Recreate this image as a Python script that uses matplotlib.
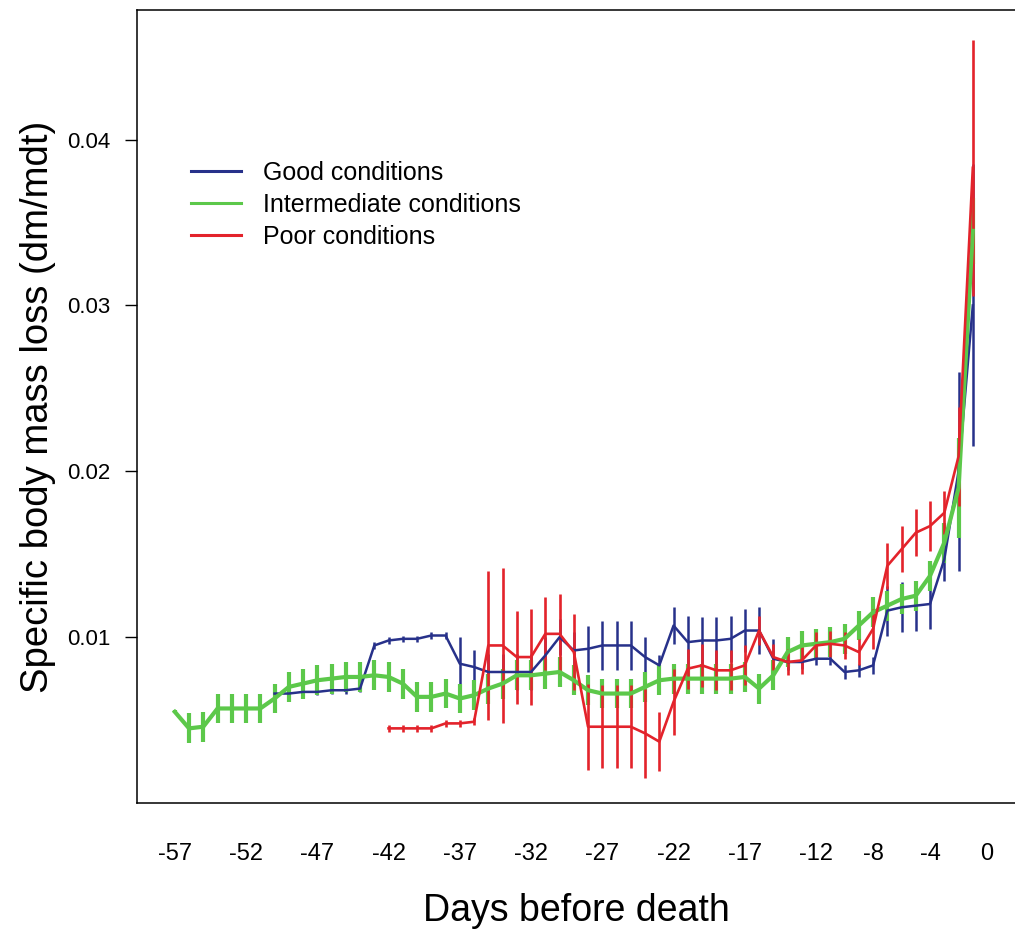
import numpy as np
import matplotlib
matplotlib.use("Agg")
import matplotlib.pyplot as plt
from matplotlib import font_manager

plt.rcParams['font.family'] = ['Liberation Sans', 'DejaVu Sans']
_names = {f.name for f in font_manager.fontManager.ttflist}
narrow = 'Liberation Sans Narrow' if 'Liberation Sans Narrow' in _names else 'Liberation Sans'

# ---- data -------------------------------------------------------------
good_days = list(range(-50, 0))
good_vals = [0.0066, 0.0066, 0.0067, 0.0067, 0.0068, 0.0068, 0.0069,
             0.0095, 0.0098, 0.0099, 0.0099, 0.0101, 0.0101,
             0.0084, 0.0082, 0.0079, 0.0079, 0.0079, 0.0079, 0.0089, 0.0100,
             0.0092, 0.0093, 0.0095, 0.0095, 0.0095, 0.0088, 0.0083, 0.0107,
             0.0097, 0.0098, 0.0098, 0.0099, 0.0104, 0.0104,
             0.0087, 0.0085, 0.0085, 0.0087, 0.0087, 0.0079, 0.0080, 0.0083,
             0.0116, 0.0118, 0.0119, 0.0120, 0.0147, 0.0200, 0.0300]
good_err = [0.0002] * 13 + [0.0016, 0.0010, 0.0011, 0.0011, 0.0011, 0.0011,
            0.0011, 0.0011, 0.0011, 0.0014, 0.0015, 0.0015, 0.0015, 0.0012,
            0.0006, 0.0011, 0.0016, 0.0014, 0.0014, 0.0014, 0.0013, 0.0014,
            0.0012, 0.0005, 0.0004, 0.0004, 0.0004, 0.0004, 0.0004, 0.0005,
            0.0015, 0.0015, 0.0015, 0.0015, 0.0013, 0.0060, 0.0085]

inter_days = list(range(-57, 0))
inter_vals = [0.0055, 0.0045, 0.0046, 0.0057, 0.0057, 0.0057, 0.0057,
              0.0063, 0.0070, 0.0072, 0.0074, 0.0075, 0.0076, 0.0076, 0.0077,
              0.0076, 0.0072, 0.0064, 0.0064, 0.0066, 0.0063, 0.0065, 0.0069,
              0.0072, 0.0077, 0.0077, 0.0078, 0.0079, 0.0074, 0.0068, 0.0066,
              0.0066, 0.0066, 0.0070, 0.0074, 0.0075, 0.0075, 0.0075, 0.0075,
              0.0075, 0.0076, 0.0069, 0.0077, 0.0091, 0.0095, 0.0096, 0.0097,
              0.0099, 0.0107, 0.0115, 0.0119, 0.0123, 0.0125, 0.0137, 0.0157,
              0.0190, 0.0345]
inter_err = [0.0001] + [0.0009] * 53 + [0.0012, 0.0030, 0.0020]

poor_days = list(range(-42, 0))
poor_vals = [0.0045, 0.0045, 0.0045, 0.0045, 0.0048, 0.0048, 0.0049,
             0.0095, 0.0095, 0.0088, 0.0088, 0.0102, 0.0102, 0.0091,
             0.0046, 0.0046, 0.0046, 0.0046, 0.0042, 0.0037, 0.0061,
             0.0081, 0.0083, 0.0080, 0.0080, 0.0083, 0.0104, 0.0088,
             0.0085, 0.0086, 0.0095, 0.0096, 0.0095, 0.0091, 0.0105,
             0.0143, 0.0153, 0.0163, 0.0167, 0.0175, 0.0209, 0.0383]
poor_err = [0.0002] * 7 + [0.0045, 0.0047, 0.0028, 0.0029, 0.0022, 0.0024,
            0.0023, 0.0026, 0.0025, 0.0025, 0.0025, 0.0027, 0.0018, 0.0020,
            0.0012, 0.0013, 0.0012, 0.0012, 0.0012, 0.0009, 0.0008, 0.0008,
            0.0008, 0.0008, 0.0008, 0.0008, 0.0008, 0.0012, 0.0014, 0.0014,
            0.0014, 0.0015, 0.0013, 0.0030, 0.0077]

xtick_vals = [-57, -52, -47, -42, -37, -32, -27, -22, -17, -12, -8, -4, 0]
ytick_vals = [0.01, 0.02, 0.03, 0.04]
labels = ["Good conditions", "Intermediate conditions", "Poor conditions"]
colors = ["#27318a", "#5cc84a", "#e3232b"]

# ---- figure -----------------------------------------------------------
fig = plt.figure(figsize=(10.15, 9.32), dpi=100)
ax = fig.add_axes([0.135, 0.1384, 0.865, 0.8506])

series = [(good_days, good_vals, good_err, 1.8),
          (inter_days, inter_vals, inter_err, 3.0),
          (poor_days, poor_vals, poor_err, 1.9)]
handles = []
for (d, v, e, lw), c, lab in zip(series, colors, labels):
    ax.errorbar(d, v, yerr=e, color=c, lw=lw, elinewidth=lw, capsize=0)
    h, = ax.plot([], [], color=c, lw=2.2, label=lab)
    handles.append(h)

ax.set_xlim(-59.65, 1.96)
ax.set_ylim(0.0, 0.0478)
ax.set_xticks(xtick_vals)
ax.set_xticklabels([str(t) for t in xtick_vals], fontfamily=narrow)
ax.set_yticks(ytick_vals)
ax.set_yticklabels([f"{t:.2f}" for t in ytick_vals])
ax.tick_params(axis='x', length=0, pad=29, labelsize=17)
ax.tick_params(axis='y', length=9, width=1, pad=10, labelsize=16,
               direction='out', colors='black')
ax.spines['right'].set_visible(False)
for s in ['left', 'top', 'bottom']:
    ax.spines[s].set_linewidth(1.1)

ax.set_xlabel("Days before death", fontsize=27, labelpad=20)
ax.set_ylabel("Specific body mass loss (dm/mdt)", fontsize=27.5, labelpad=8)

leg = ax.legend(handles=handles, frameon=False, fontsize=18,
                loc='upper left', bbox_to_anchor=(0.05, 0.823),
                handlelength=2.0, handletextpad=0.9, labelspacing=0.33,
                borderaxespad=0)

fig.savefig("out.png", dpi=100)
